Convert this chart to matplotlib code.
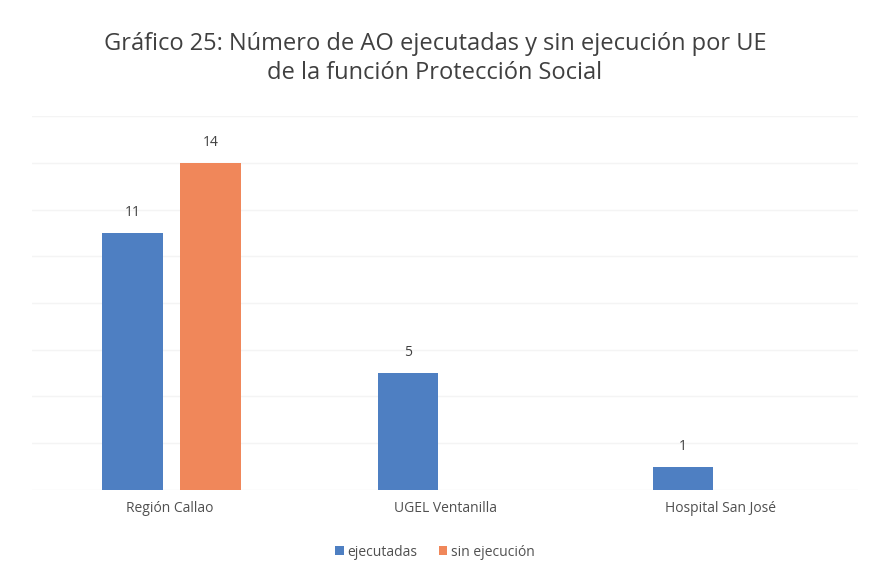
import matplotlib.pyplot as plt
import numpy as np

plt.rcParams['font.family'] = ['Open Sans', 'DejaVu Sans']

categorias = ["Región Callao", "UGEL Ventanilla", "Hospital San José"]
ejecutadas = [11, 5, 1]
sin_ejecucion = [14, 0, 0]

azul = "#4e7fc2"
naranja = "#f0875a"

fig = plt.figure(figsize=(8.7, 5.75), dpi=100)
ax = fig.add_axes([0.037, 0.148, 0.949, 0.65])

x = np.arange(len(categorias))
w = 0.22
b1 = ax.bar(x - 0.135, ejecutadas, w, color=azul, label="ejecutadas", zorder=3)
b2 = ax.bar(x + 0.148, sin_ejecucion, w, color=naranja, label="sin ejecución", zorder=3)

for barras, vals in [(b1, ejecutadas), (b2, sin_ejecucion)]:
    for b, v in zip(barras, vals):
        if v > 0:
            ax.text(b.get_x() + b.get_width() / 2, v + 0.55, str(v),
                    ha="center", va="bottom", fontsize=10, color="#404040")

ax.set_xlim(-0.5, 2.5)
ax.set_ylim(0, 16)
ax.set_yticks(np.arange(0, 17, 2))
ax.yaxis.grid(True, color="#f4f4f4", linewidth=1, zorder=0)
ax.tick_params(axis="y", left=False, labelleft=False)
ax.tick_params(axis="x", length=0, pad=8, labelsize=10, labelcolor="#505050")
ax.set_xticks(x)
ax.set_xticklabels(categorias)
for s in ax.spines.values():
    s.set_visible(False)

fig.text(0.5, 0.945, "Gráfico 25: Número de AO ejecutadas y sin ejecución por UE\nde la función Protección Social",
         ha="center", va="top", fontsize=17, color="#404040", linespacing=1.3)

fig.legend(loc="lower center", bbox_to_anchor=(0.5, 0.005), ncol=2, frameon=False,
           fontsize=10, handlelength=0.6, handleheight=0.6, columnspacing=1.5,
           handletextpad=0.3, labelcolor="#505050")

fig.savefig("out.png", dpi=100)
